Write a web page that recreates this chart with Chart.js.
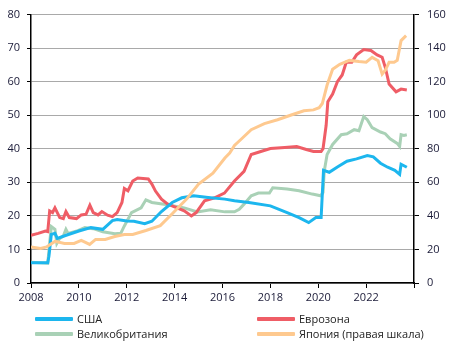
<!DOCTYPE html>
<html lang="ru">
<head>
  <meta charset="UTF-8" />
  <title>Долг</title>
  <script src="https://cdn.jsdelivr.net/npm/chart.js"></script>
  <style>
    body { margin: 0; background: #fff; }
    .wrap { position: relative; width: 451px; height: 347px; }
    .legende {
      position: absolute; font-family: 'Open Sans', sans-serif; font-size: 11px;
      color: #222; display: flex; align-items: center; white-space: nowrap;
    }
    .legende span.trait { display: inline-block; width: 38px; height: 4px; margin-right: 4px; border-radius: 1px; }
  </style>
</head>
<body>
<div class="wrap">
  <canvas id="chart-dette" width="451" height="347"></canvas>
  <div id="legende"></div>
</div>

<script>
  // США (левая шкала)
  const usaX = [2008.0, 2008.7, 2008.75, 2008.85, 2009.0, 2009.1, 2009.5, 2010.0, 2010.5, 2011.0, 2011.4, 2011.6, 2012.0, 2012.3, 2012.75, 2013.05, 2013.45, 2013.9, 2014.3, 2014.8, 2015.4, 2016.1, 2016.5, 2017.1, 2018.0, 2018.7, 2019.2, 2019.6, 2019.9, 2020.12, 2020.22, 2020.46, 2020.8, 2021.2, 2021.6, 2022.05, 2022.3, 2022.6, 2022.9, 2023.2, 2023.4, 2023.46, 2023.7];
  const usaY = [6, 6, 8, 14.5, 14.8, 13.3, 14.3, 15.5, 16.5, 16, 18.6, 18.9, 18.5, 18.4, 17.7, 18.4, 21.3, 24, 25.4, 26, 25.5, 25, 24.5, 24, 23, 21, 19.5, 18, 19.5, 19.5, 33.6, 33, 34.6, 36.3, 37, 38, 37.6, 35.7, 34.5, 33.6, 32.4, 35.4, 34.5];

  // Еврозона (левая шкала)
  const euroX = [2008.0, 2008.3, 2008.6, 2008.7, 2008.78, 2008.9, 2009.0, 2009.2, 2009.35, 2009.46, 2009.6, 2009.9, 2010.1, 2010.3, 2010.46, 2010.6, 2010.8, 2010.96, 2011.2, 2011.4, 2011.6, 2011.8, 2011.9, 2012.05, 2012.25, 2012.46, 2012.9, 2013.05, 2013.2, 2013.45, 2013.7, 2014.1, 2014.4, 2014.7, 2014.9, 2015.25, 2015.67, 2016.08, 2016.5, 2016.9, 2017.2, 2017.6, 2018.0, 2018.6, 2019.1, 2019.5, 2019.8, 2020.12, 2020.2, 2020.33, 2020.4, 2020.6, 2020.8, 2021.0, 2021.17, 2021.4, 2021.6, 2021.9, 2022.2, 2022.46, 2022.67, 2022.8, 2022.96, 2023.25, 2023.46, 2023.7];
  const euroY = [14.2, 14.8, 15.5, 15.3, 21.5, 21, 22.4, 19.5, 19.2, 21.3, 19.5, 19.2, 20.3, 20.5, 23.2, 21, 20.3, 21.3, 20.2, 19.8, 21, 24, 28.2, 27.5, 30.4, 31.3, 31, 29.5, 27.4, 25, 23.6, 22.4, 21.5, 20, 21, 24.5, 25.4, 26.8, 30.4, 33.3, 38.3, 39.2, 40.1, 40.4, 40.7, 39.8, 39.2, 39.2, 40, 47, 54, 56.3, 60, 62, 65.8, 65.8, 68, 69.6, 69.3, 68, 67.3, 64.3, 59.3, 57, 57.8, 57.5];

  // Великобритания (левая шкала)
  const ukX = [2008.0, 2008.7, 2008.78, 2008.85, 2009.0, 2009.08, 2009.2, 2009.35, 2009.46, 2009.55, 2009.96, 2010.25, 2010.6, 2011.0, 2011.5, 2011.75, 2011.9, 2012.2, 2012.6, 2012.8, 2013.05, 2013.7, 2014.4, 2014.95, 2015.5, 2016.1, 2016.5, 2016.7, 2016.9, 2017.2, 2017.5, 2017.96, 2018.1, 2018.7, 2019.2, 2019.75, 2020.1, 2020.2, 2020.25, 2020.37, 2020.6, 2020.96, 2021.2, 2021.5, 2021.7, 2021.9, 2022.05, 2022.25, 2022.6, 2022.8, 2023.0, 2023.3, 2023.4, 2023.46, 2023.58, 2023.7];
  const ukY = [6.2, 5.9, 12, 16.8, 16, 11.8, 13.3, 14, 16, 14.8, 15.6, 16.5, 16.2, 15.3, 14.7, 14.8, 17, 21, 22.4, 24.8, 24, 23.3, 22.4, 21.2, 21.8, 21.2, 21.2, 22, 23.5, 26, 26.8, 26.8, 28.4, 28, 27.5, 26.5, 26, 27, 33.3, 38.3, 41.3, 44.2, 44.5, 45.7, 45.4, 49.6, 48.7, 46.3, 45, 44.5, 43, 41.6, 40.7, 44.2, 44, 44.2];

  // Япония (правая шкала)
  const japX = [2008.0, 2008.4, 2008.65, 2009.0, 2009.4, 2009.8, 2010.1, 2010.45, 2010.7, 2011.1, 2011.5, 2011.9, 2012.25, 2012.8, 2013.4, 2013.9, 2014.5, 2015.0, 2015.6, 2016.1, 2016.3, 2016.5, 2016.8, 2017.2, 2017.75, 2018.3, 2018.9, 2019.4, 2019.8, 2020.04, 2020.17, 2020.37, 2020.6, 2020.9, 2021.3, 2021.7, 2022.0, 2022.25, 2022.5, 2022.67, 2022.8, 2022.96, 2023.17, 2023.3, 2023.46, 2023.67];
  const japY = [21.5, 20.6, 21.5, 24.8, 23.6, 23.6, 25.4, 23, 26, 26, 27.7, 28.9, 28.9, 31.3, 34.2, 41.3, 50, 59, 65.5, 74.5, 77.5, 82, 86, 91.4, 95, 97.3, 100.3, 102.7, 103.2, 104.5, 107, 118, 127.4, 130.4, 132.7, 132, 131.6, 134.5, 132.5, 124.5, 126.8, 131.6, 131.6, 132.7, 144.5, 147.5];

  const noms = ["США", "Еврозона", "Великобритания", "Япония (правая шкала)"];
  const couleurs = ["#1cb6ee", "#ef5d66", "#a9d1b6", "#fec98f"];

  const serie = (xs, ys) => xs.map((x, i) => ({ x: x, y: ys[i] }));
  const police = { family: "'Open Sans', sans-serif", size: 11 };
  const texte = "#1b1b38";

  // order : la Japon passe au-dessus
  const datasets = [
    { label: noms[0], data: serie(usaX, usaY), borderColor: couleurs[0], yAxisID: "y", order: 2 },
    { label: noms[1], data: serie(euroX, euroY), borderColor: couleurs[1], yAxisID: "y", order: 3 },
    { label: noms[2], data: serie(ukX, ukY), borderColor: couleurs[2], yAxisID: "y", order: 4 },
    { label: noms[3], data: serie(japX, japY), borderColor: couleurs[3], yAxisID: "y1", order: 1 }
  ].map(d => Object.assign(d, { borderWidth: 3, pointRadius: 0, tension: 0, fill: false }));

  new Chart(document.getElementById("chart-dette"), {
    type: "line",
    data: { datasets: datasets },
    options: {
      responsive: false,
      animation: false,
      devicePixelRatio: 1,
      layout: { padding: { top: 12, left: 0, right: 0, bottom: 0 } },
      plugins: { legend: { display: false }, tooltip: { enabled: false } },
      scales: {
        x: {
          type: "linear", min: 2008, max: 2024,
          ticks: { stepSize: 2, color: texte, font: police, padding: 3, maxRotation: 0,
            callback: v => (v >= 2024 ? "" : String(v)) },
          grid: { drawOnChartArea: false, tickLength: 5, tickColor: "#000" },
          border: { color: "#000", width: 1.5 },
          afterFit: s => { s.height = 64; }
        },
        y: {
          position: "left", min: 0, max: 80,
          ticks: { stepSize: 10, color: texte, font: police, padding: 7 },
          grid: { color: "#a9a9a9", tickLength: 4, tickColor: "#000" },
          border: { color: "#000", width: 1.5 },
          afterFit: s => { s.width = 31; }
        },
        y1: {
          position: "right", min: 0, max: 160,
          ticks: { stepSize: 20, color: texte, font: police, padding: 8 },
          grid: { drawOnChartArea: false, tickLength: 5, tickColor: "#000" },
          border: { color: "#000", width: 1.5 },
          afterFit: s => { s.width = 37; }
        }
      }
    }
  });

  // légende en deux colonnes
  const places = [[35, 319], [257, 319], [35, 334], [257, 334]];
  const legende = document.getElementById("legende");
  noms.forEach((nom, i) => {
    const el = document.createElement("div");
    el.className = "legende";
    el.style.left = places[i][0] + "px";
    el.style.top = (places[i][1] - 8) + "px";
    el.innerHTML = `<span class="trait" style="background:${couleurs[i]}"></span>${nom}`;
    legende.appendChild(el);
  });
</script>
</body>
</html>
